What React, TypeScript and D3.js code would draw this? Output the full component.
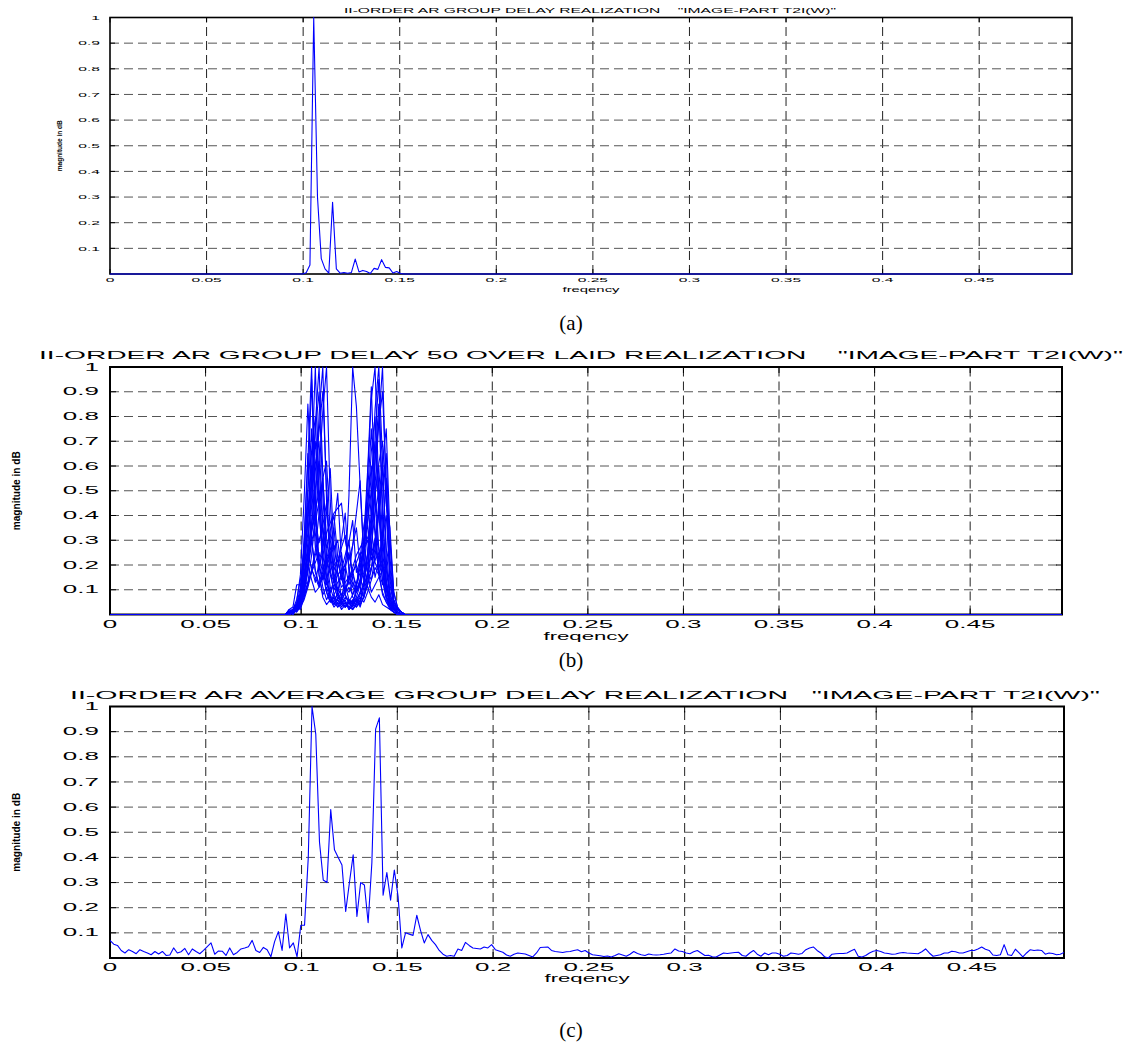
import React from 'react'
import * as d3 from 'd3'

// frequency bins: 256 samples of the half band, k/512
const BIN_COUNT = 256
const X_MAX = (BIN_COUNT - 1) / (2 * BIN_COUNT)

const freqTicks = [0, 0.05, 0.1, 0.15, 0.2, 0.25, 0.3, 0.35, 0.4, 0.45]
const freqTickLabels = ['0', '0.05', '0.1', '0.15', '0.2', '0.25', '0.3', '0.35', '0.4', '0.45']
const magTicks = [0.1, 0.2, 0.3, 0.4, 0.5, 0.6, 0.7, 0.8, 0.9, 1]
const magTickLabels = ['0.1', '0.2', '0.3', '0.4', '0.5', '0.6', '0.7', '0.8', '0.9', '1']

const titleA = 'II-ORDER AR GROUP DELAY REALIZATION    "IMAGE-PART T2I(W)"'
const titleB = 'II-ORDER AR GROUP DELAY 50 OVER LAID REALIZATION    "IMAGE-PART T2I(W)"'
const titleC = 'II-ORDER AR AVERAGE GROUP DELAY REALIZATION   "IMAGE-PART T2I(W)"'
const xLabelText = 'freqency'
const yLabelText = 'magnitude in dB'

// (a) single realization, bins outside this stretch are flat at 0
const singleStartBin = 50
const singleValues = [0.0, 0.0, 0.005, 0.035, 1.0, 0.3, 0.06, 0.02, 0.003, 0.28, 0.02, 0.003, 0.006, 0.003, 0.006,
  0.058, 0.008, 0.014, 0.01, 0.002, 0.022, 0.018, 0.056, 0.026, 0.024, 0.004, 0.01, 0.002, 0.0]

// (b) overlaid realizations, bins 48..78, flat at 0 elsewhere
const overlaidStartBin = 48
const overlaidRuns = [
  [0.01, 0.02, 0.02, 0.06, 0.28, 0.62, 1.00, 0.48, 0.16, 0.07, 0.04, 0.06, 0.03, 0.05, 0.02, 0.04, 0.03, 0.02, 0.05, 0.04, 0.07, 0.12, 0.19, 0.30, 0.17, 0.08, 0.05, 0.02, 0.01, 0.01, 0.00],
  [0.00, 0.01, 0.03, 0.05, 0.11, 0.27, 0.58, 1.00, 0.52, 0.21, 0.09, 0.05, 0.07, 0.03, 0.04, 0.06, 0.02, 0.04, 0.03, 0.06, 0.09, 0.16, 0.38, 0.71, 0.95, 0.44, 0.13, 0.04, 0.02, 0.01, 0.00],
  [0.01, 0.00, 0.02, 0.09, 0.31, 0.65, 0.34, 0.42, 0.81, 1.00, 0.46, 0.18, 0.08, 0.04, 0.06, 0.03, 0.05, 0.02, 0.04, 0.07, 0.05, 0.09, 0.14, 0.23, 0.41, 0.60, 0.27, 0.08, 0.03, 0.01, 0.00],
  [0.00, 0.02, 0.01, 0.04, 0.08, 0.19, 0.44, 0.77, 1.00, 0.57, 0.23, 0.11, 0.06, 0.08, 0.04, 0.03, 0.06, 0.05, 0.09, 0.14, 0.31, 0.58, 0.92, 0.47, 0.21, 0.33, 0.55, 0.19, 0.05, 0.02, 0.01],
  [0.01, 0.01, 0.03, 0.02, 0.07, 0.12, 0.18, 0.26, 0.41, 0.55, 0.62, 0.33, 0.14, 0.09, 0.06, 0.15, 0.48, 1.00, 0.84, 0.52, 0.22, 0.11, 0.07, 0.05, 0.08, 0.04, 0.03, 0.02, 0.01, 0.00, 0.00],
  [0.02, 0.01, 0.04, 0.07, 0.22, 0.51, 0.95, 0.43, 0.18, 0.26, 0.41, 0.59, 0.24, 0.09, 0.05, 0.03, 0.04, 0.06, 0.03, 0.05, 0.11, 0.24, 0.49, 0.83, 1.00, 0.62, 0.21, 0.06, 0.03, 0.01, 0.00],
  [0.00, 0.02, 0.02, 0.05, 0.14, 0.38, 0.66, 0.80, 0.44, 0.19, 0.12, 0.21, 0.36, 0.49, 0.22, 0.08, 0.05, 0.03, 0.06, 0.04, 0.07, 0.13, 0.26, 0.52, 0.78, 1.00, 0.47, 0.12, 0.04, 0.02, 0.01],
  [0.01, 0.00, 0.03, 0.04, 0.09, 0.17, 0.33, 0.58, 0.74, 0.90, 0.51, 0.22, 0.13, 0.19, 0.30, 0.41, 0.17, 0.07, 0.05, 0.09, 0.21, 0.56, 0.87, 1.00, 0.49, 0.18, 0.07, 0.03, 0.02, 0.01, 0.00],
  [0.02, 0.03, 0.12, 0.12, 0.15, 0.29, 0.48, 0.61, 0.70, 0.37, 0.15, 0.07, 0.04, 0.06, 0.03, 0.05, 0.02, 0.04, 0.06, 0.03, 0.08, 0.12, 0.18, 0.27, 0.46, 0.62, 0.75, 0.31, 0.09, 0.03, 0.01],
  [0.00, 0.01, 0.02, 0.06, 0.19, 0.42, 0.60, 0.33, 0.16, 0.08, 0.11, 0.06, 0.04, 0.07, 0.05, 0.09, 0.16, 0.28, 0.41, 0.54, 0.23, 0.17, 0.36, 0.62, 0.85, 0.39, 0.14, 0.05, 0.02, 0.01, 0.00],
  [0.01, 0.02, 0.01, 0.03, 0.07, 0.13, 0.24, 0.39, 0.57, 0.82, 1.00, 0.46, 0.17, 0.08, 0.05, 0.03, 0.06, 0.04, 0.07, 0.12, 0.29, 0.44, 0.60, 0.35, 0.18, 0.12, 0.21, 0.30, 0.06, 0.02, 0.01],
  [0.00, 0.02, 0.04, 0.11, 0.27, 0.45, 0.31, 0.17, 0.12, 0.15, 0.22, 0.29, 0.35, 0.16, 0.07, 0.05, 0.03, 0.05, 0.04, 0.08, 0.13, 0.25, 0.41, 0.63, 0.77, 0.90, 0.52, 0.16, 0.05, 0.02, 0.01],
  [0.01, 0.01, 0.02, 0.04, 0.10, 0.21, 0.33, 0.42, 0.50, 0.28, 0.13, 0.07, 0.05, 0.09, 0.18, 0.24, 0.30, 0.14, 0.06, 0.05, 0.14, 0.38, 0.57, 0.70, 0.41, 0.19, 0.08, 0.03, 0.01, 0.00, 0.00],
  [0.00, 0.01, 0.03, 0.05, 0.12, 0.26, 0.35, 0.40, 0.22, 0.11, 0.06, 0.09, 0.14, 0.19, 0.25, 0.12, 0.06, 0.04, 0.11, 0.23, 0.36, 0.45, 0.27, 0.15, 0.22, 0.31, 0.40, 0.14, 0.04, 0.01, 0.00],
  [0.02, 0.01, 0.02, 0.03, 0.06, 0.11, 0.17, 0.24, 0.30, 0.35, 0.19, 0.08, 0.05, 0.03, 0.06, 0.09, 0.14, 0.17, 0.20, 0.11, 0.07, 0.15, 0.28, 0.41, 0.50, 0.26, 0.10, 0.04, 0.02, 0.01, 0.00],
  [0.01, 0.02, 0.03, 0.07, 0.15, 0.23, 0.30, 0.18, 0.12, 0.19, 0.22, 0.25, 0.13, 0.06, 0.04, 0.07, 0.05, 0.08, 0.12, 0.19, 0.27, 0.31, 0.35, 0.21, 0.17, 0.30, 0.18, 0.07, 0.02, 0.01, 0.00],
  [0.00, 0.01, 0.02, 0.04, 0.08, 0.13, 0.17, 0.21, 0.25, 0.16, 0.09, 0.05, 0.08, 0.11, 0.07, 0.10, 0.14, 0.19, 0.24, 0.27, 0.30, 0.17, 0.09, 0.12, 0.15, 0.18, 0.20, 0.09, 0.03, 0.01, 0.00],
  [0.01, 0.00, 0.02, 0.06, 0.13, 0.20, 0.14, 0.09, 0.11, 0.15, 0.19, 0.24, 0.27, 0.30, 0.17, 0.08, 0.05, 0.04, 0.06, 0.09, 0.12, 0.16, 0.19, 0.22, 0.25, 0.14, 0.06, 0.03, 0.01, 0.00, 0.00],
  [0.00, 0.01, 0.03, 0.08, 0.17, 0.24, 0.19, 0.13, 0.21, 0.28, 0.33, 0.37, 0.41, 0.43, 0.45, 0.30, 0.22, 0.28, 0.35, 0.19, 0.26, 0.38, 0.50, 0.32, 0.16, 0.09, 0.05, 0.03, 0.01, 0.00, 0.00],
  [0.01, 0.02, 0.04, 0.07, 0.21, 0.39, 0.55, 0.70, 0.41, 0.24, 0.15, 0.18, 0.20, 0.22, 0.14, 0.19, 0.25, 0.16, 0.12, 0.21, 0.26, 0.30, 0.22, 0.29, 0.41, 0.53, 0.65, 0.23, 0.06, 0.02, 0.01],
  [0.00, 0.02, 0.05, 0.16, 0.47, 0.85, 0.52, 0.27, 0.19, 0.14, 0.21, 0.25, 0.28, 0.17, 0.11, 0.13, 0.15, 0.18, 0.09, 0.12, 0.24, 0.43, 0.66, 0.80, 0.46, 0.21, 0.11, 0.04, 0.02, 0.01, 0.00],
  [0.00, 0.01, 0.02, 0.05, 0.11, 0.18, 0.29, 0.37, 0.46, 0.55, 0.31, 0.17, 0.13, 0.16, 0.18, 0.20, 0.12, 0.17, 0.21, 0.25, 0.14, 0.21, 0.33, 0.48, 0.61, 0.70, 0.44, 0.35, 0.09, 0.03, 0.01],
  [0.01, 0.02, 0.06, 0.14, 0.20, 0.33, 0.52, 0.74, 0.90, 0.48, 0.23, 0.16, 0.10, 0.13, 0.15, 0.09, 0.11, 0.08, 0.12, 0.17, 0.28, 0.49, 0.75, 0.51, 0.27, 0.14, 0.07, 0.03, 0.01, 0.00, 0.00],
  [0.00, 0.01, 0.03, 0.07, 0.26, 0.49, 0.75, 0.38, 0.29, 0.36, 0.45, 0.27, 0.18, 0.22, 0.27, 0.32, 0.19, 0.11, 0.09, 0.13, 0.17, 0.24, 0.37, 0.49, 0.60, 0.31, 0.12, 0.05, 0.02, 0.01, 0.00],
  [0.00, 0.01, 0.04, 0.09, 0.14, 0.12, 0.18, 0.15, 0.11, 0.16, 0.13, 0.09, 0.12, 0.10, 0.08, 0.11, 0.09, 0.13, 0.10, 0.14, 0.11, 0.17, 0.14, 0.19, 0.16, 0.21, 0.13, 0.06, 0.02, 0.01, 0.00],
  [0.01, 0.01, 0.02, 0.06, 0.13, 0.24, 0.37, 0.51, 0.62, 0.33, 0.27, 0.34, 0.40, 0.23, 0.15, 0.21, 0.29, 0.38, 0.17, 0.22, 0.30, 0.36, 0.24, 0.31, 0.27, 0.19, 0.10, 0.04, 0.02, 0.01, 0.00],
]

// (c) average over realizations, all 256 bins
const averageValues = [
  0.07, 0.055, 0.05, 0.03, 0.02, 0.033, 0.026, 0.017, 0.033, 0.026,
  0.02, 0.013, 0.026, 0.016, 0.026, 0.01, 0.012, 0.04, 0.02, 0.025,
  0.038, 0.013, 0.036, 0.026, 0.017, 0.03, 0.045, 0.06, 0.015, 0.028,
  0.027, 0.01, 0.04, 0.013, 0.022, 0.036, 0.04, 0.045, 0.07, 0.03,
  0.022, 0.042, 0.033, 0.005, 0.065, 0.105, 0.03, 0.175, 0.04, 0.06,
  0.005, 0.13, 0.13, 0.4, 1.0, 0.89, 0.46, 0.31, 0.3, 0.59,
  0.43, 0.4, 0.37, 0.185, 0.3, 0.41, 0.165, 0.3, 0.29, 0.14,
  0.38, 0.91, 0.955, 0.25, 0.34, 0.23, 0.35, 0.245, 0.04, 0.1,
  0.095, 0.09, 0.17, 0.11, 0.06, 0.093, 0.07, 0.053, 0.03, 0.015,
  0.007, 0.01, 0.007, 0.036, 0.03, 0.062, 0.05, 0.04, 0.038, 0.036,
  0.044, 0.04, 0.053, 0.033, 0.028, 0.023, 0.012, 0.007, 0.015, 0.02,
  0.018, 0.016, 0.01, 0.004, 0.02, 0.042, 0.043, 0.044, 0.03, 0.026,
  0.024, 0.022, 0.025, 0.026, 0.03, 0.033, 0.025, 0.03, 0.02, 0.013,
  0.011, 0.009, 0.006, 0.008, 0.004, 0.01, 0.017, 0.012, 0.007, 0.015,
  0.026, 0.018, 0.013, 0.01, 0.016, 0.013, 0.012, 0.013, 0.015, 0.018,
  0.02, 0.036, 0.028, 0.026, 0.02, 0.017, 0.025, 0.03, 0.02, 0.01,
  0.011, 0.005, 0.004, 0.012, 0.02, 0.018, 0.02, 0.022, 0.023, 0.01,
  0.007, 0.02, 0.03, 0.015, 0.007, 0.02, 0.013, 0.02, 0.02, 0.015,
  0.007, 0.01, 0.02, 0.018, 0.015, 0.018, 0.033, 0.04, 0.044, 0.03,
  0.02, 0.005, 0.0, 0.015, 0.017, 0.018, 0.018, 0.02, 0.028, 0.035,
  0.007, 0.004, 0.01, 0.02, 0.027, 0.03, 0.026, 0.02, 0.018, 0.015,
  0.016, 0.02, 0.022, 0.02, 0.019, 0.018, 0.017, 0.025, 0.036, 0.02,
  0.007, 0.01, 0.013, 0.02, 0.02, 0.027, 0.025, 0.02, 0.02, 0.025,
  0.03, 0.03, 0.036, 0.044, 0.035, 0.03, 0.012, 0.01, 0.013, 0.053,
  0.013, 0.01, 0.035, 0.02, 0.004, 0.02, 0.033, 0.03, 0.032, 0.03,
  0.015, 0.02, 0.018, 0.013, 0.015, 0.022,
]

// stretch a short run of bins over the whole band (the rest of the picture is flat at 0)
const spread = (start: number, vals: number[]) =>
  d3.range(BIN_COUNT).map(k => (k >= start && k < start + vals.length ? vals[k - start] : 0))

const FONT = '"Liberation Sans", Arial, Helvetica, sans-serif'

type PanelCfg = {
  id: string
  left: number; right: number; top: number; bottom: number
  title: string; titleX0: number; titleX1: number; titleY: number; titleSize: number
  tickSize: number; tickSx: number; xTickY: number; yTickRight: number
  xLabelY: number; xLabelW: number; xLabelSize: number
  yLabelX: number; yLabelW: number; yLabelSize: number
  tickLen: number; boxW: number
  caption: string; captionY: number
}

const Panel = ({ cfg, series }: { cfg: PanelCfg; series: number[][] }) => {
  const x = d3.scaleLinear().domain([0, X_MAX]).range([cfg.left, cfg.right])
  const y = d3.scaleLinear().domain([0, 1]).range([cfg.bottom, cfg.top])
  const line = d3.line<number>()
    .x((_, i) => x(i / (2 * BIN_COUNT)))
    .y(v => y(v))
  const midX = (cfg.left + cfg.right) / 2
  const midY = (cfg.top + cfg.bottom) / 2
  const clipId = 'clip-' + cfg.id
  return (
    <g>
      <defs>
        <clipPath id={clipId}>
          <rect x={cfg.left} y={cfg.top - 1} width={cfg.right - cfg.left} height={cfg.bottom - cfg.top + 2} />
        </clipPath>
      </defs>
      {/* grid */}
      {freqTicks.slice(1).map(t => (
        <line key={'gx' + t} x1={x(t)} x2={x(t)} y1={cfg.bottom} y2={cfg.top}
          stroke="#222" strokeWidth={1} strokeDasharray="9,5" />
      ))}
      {magTicks.slice(0, -1).map(t => (
        <line key={'gy' + t} x1={cfg.left} x2={cfg.right} y1={y(t)} y2={y(t)}
          stroke="#555" strokeWidth={1} strokeDasharray="9,5" />
      ))}
      {/* ticks, pointing inwards on all sides */}
      {freqTicks.map(t => (
        <g key={'tx' + t}>
          <line x1={x(t)} x2={x(t)} y1={cfg.bottom} y2={cfg.bottom - cfg.tickLen} stroke="#000" />
          <line x1={x(t)} x2={x(t)} y1={cfg.top} y2={cfg.top + cfg.tickLen} stroke="#000" />
        </g>
      ))}
      {magTicks.map(t => (
        <g key={'ty' + t}>
          <line x1={cfg.left} x2={cfg.left + cfg.tickLen} y1={y(t)} y2={y(t)} stroke="#000" />
          <line x1={cfg.right} x2={cfg.right - cfg.tickLen} y1={y(t)} y2={y(t)} stroke="#000" />
        </g>
      ))}
      <rect x={cfg.left} y={cfg.top} width={cfg.right - cfg.left} height={cfg.bottom - cfg.top}
        fill="none" stroke="#000" strokeWidth={cfg.boxW} />
      {/* data */}
      <g clipPath={`url(#${clipId})`}>
        {series.map((s, i) => (
          <path key={i} d={line(s) || ''} fill="none" stroke="#0000ff" strokeWidth={1.1} strokeLinejoin="round" />
        ))}
      </g>
      {/* tick labels, MATLAB print stretches them sideways */}
      {freqTicks.map((t, i) => (
        <text key={'lx' + t} transform={`translate(${x(t)},${cfg.xTickY}) scale(${cfg.tickSx},1)`}
          textAnchor="middle" fontSize={cfg.tickSize} fontFamily={FONT} fill="#000">{freqTickLabels[i]}</text>
      ))}
      {magTicks.map((t, i) => (
        <text key={'ly' + t} transform={`translate(${cfg.yTickRight},${y(t) + cfg.tickSize * 0.36}) scale(${cfg.tickSx},1)`}
          textAnchor="end" fontSize={cfg.tickSize} fontFamily={FONT} fill="#000">{magTickLabels[i]}</text>
      ))}
      {/* title and axis labels */}
      <text x={cfg.titleX0} y={cfg.titleY} textLength={cfg.titleX1 - cfg.titleX0} lengthAdjust="spacingAndGlyphs"
        fontSize={cfg.titleSize} fontFamily={FONT} fill="#000" style={{ whiteSpace: 'pre' }}>{cfg.title}</text>
      <text x={midX - cfg.xLabelW / 2} y={cfg.xLabelY} textLength={cfg.xLabelW} lengthAdjust="spacingAndGlyphs"
        fontSize={cfg.xLabelSize} fontFamily={FONT} fill="#000">{xLabelText}</text>
      <text transform={`translate(${cfg.yLabelX},${midY + cfg.yLabelW / 2}) rotate(-90)`} textLength={cfg.yLabelW}
        lengthAdjust="spacingAndGlyphs" fontSize={cfg.yLabelSize} fontWeight="bold" fontFamily={FONT} fill="#000">{yLabelText}</text>
      <text x={571} y={cfg.captionY} textAnchor="middle" fontSize={21}
        fontFamily='"Liberation Serif", "Times New Roman", serif' fill="#000">{cfg.caption}</text>
    </g>
  )
}

const panelA: PanelCfg = {
  id: 'a', left: 110, right: 1072, top: 17.5, bottom: 274,
  title: titleA, titleX0: 344, titleX1: 836, titleY: 13, titleSize: 7,
  tickSize: 6, tickSx: 2.6, xTickY: 282, yTickRight: 100,
  xLabelY: 292, xLabelW: 57, xLabelSize: 6.5,
  yLabelX: 62, yLabelW: 51, yLabelSize: 7,
  tickLen: 5, boxW: 1.6, caption: '(a)', captionY: 330,
}
const panelB: PanelCfg = {
  id: 'b', left: 110, right: 1062, top: 367, bottom: 614.5,
  title: titleB, titleX0: 39, titleX1: 1123, titleY: 359, titleSize: 10,
  tickSize: 10, tickSx: 2.6, xTickY: 627.5, yTickRight: 99,
  xLabelY: 640, xLabelW: 85, xLabelSize: 10,
  yLabelX: 20, yLabelW: 79, yLabelSize: 10,
  tickLen: 6, boxW: 2, caption: '(b)', captionY: 667,
}
const panelC: PanelCfg = {
  id: 'c', left: 110, right: 1064, top: 706.5, bottom: 958,
  title: titleC, titleX0: 70, titleX1: 1100, titleY: 699, titleSize: 10.5,
  tickSize: 10, tickSx: 2.6, xTickY: 971, yTickRight: 99,
  xLabelY: 982, xLabelW: 85, xLabelSize: 10,
  yLabelX: 20, yLabelW: 79, yLabelSize: 10,
  tickLen: 6, boxW: 2, caption: '(c)', captionY: 1037,
}

export default function App() {
  const seriesA = [spread(singleStartBin, singleValues)]
  const seriesB = overlaidRuns.map(r => spread(overlaidStartBin, r))
  const seriesC = [averageValues]
  return (
    <svg width={1138} height={1046} style={{ position: 'absolute', left: 0, top: 0, background: '#fff' }}>
      <rect width={1138} height={1046} fill="#fff" />
      <Panel cfg={panelA} series={seriesA} />
      <Panel cfg={panelB} series={seriesB} />
      <Panel cfg={panelC} series={seriesC} />
    </svg>
  )
}
